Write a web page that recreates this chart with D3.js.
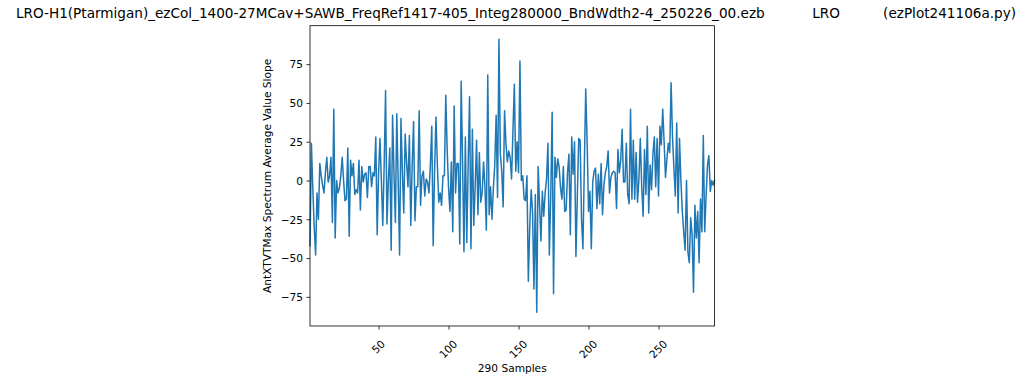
<!DOCTYPE html>
<html>
<head>
<meta charset="utf-8">
<script src="https://cdn.jsdelivr.net/npm/d3@7"></script>
<style>
  html, body { margin: 0; padding: 0; background: #fff; }
  svg { display: block; font-family: "DejaVu Sans", sans-serif; }
</style>
</head>
<body>
<svg id="chart" width="1024" height="382"></svg>
<script>
const titleText = "LRO-H1(Ptarmigan)_ezCol_1400-27MCav+SAWB_FreqRef1417-405_Integ280000_BndWdth2-4_250226_00.ezb           LRO          (ezPlot241106a.py)";
const xLabel = "290 Samples";
const yLabel = "AntXTVTMax Spectrum Average Value Slope";
const xTicks = [50, 100, 150, 200, 250];
const yTicks = [-75, -50, -25, 0, 25, 50, 75];
const slope = [
  -42, 24, -5, -30, -48, -8, -25, 11, 3, -3,
  -8, 5, 15, -1, 3, 15, -27, 46, -37, 0,
  -8, -5, 3, 15, 0, -13, -12, 21, -36, 13,
  3, 11, -9, -6, -8, 13, -19, 9, -1, 4,
  5, -11, 9, 9, -4, 5, 3, 28, -35, 5,
  27, 0, -29, 10, 58, -28, 0, 21, -45, 42,
  5, -27, 43, 0, -48, 40, 5, -21, 30, 12,
  -4, 29, -29, 10, 38, -26, -4, -4, 45, -16,
  3, 6, -10, 1, -1, -8, 10, 35, -42, 6,
  41, 10, -14, -8, -16, 3, 3, 55, 20, -5,
  -20, 12, -33, 48, -8, 11, 11, -41, 64, 12,
  -46, 28, -40, 10, 54, -44, 33, -29, -4, 26,
  -22, 18, -14, -8, 12, -4, -32, 68, -22, -4,
  -25, -5, 10, 42, -11, 91, 17, 6, -17, 45,
  24, 12, 19, 15, 1, 32, 62, 6, 25, 5,
  77, 0, 3, -12, -13, 3, -65, -30, -6, -20,
  -70, -9, -85, 9, -15, -39, -7, -23, -8, 1,
  24, -48, -10, 44, -73, 15, 2, 14, 9, -5,
  -12, 9, -20, -19, 5, 17, -35, 28, 4, 25,
  -49, -10, 27, 26, -25, -44, 10, 59, 25, -20,
  -7, -44, -1, 6, 8, -18, 4, -15, 11, -22,
  -3, 5, 9, 19, -8, 2, 5, 6, 5, -18,
  20, 5, 13, 33, -1, -1, 24, -9, -15, 46,
  -12, 26, -12, 18, -14, 1, 27, -4, -23, 20,
  -9, 35, -21, 10, -6, 17, 28, -4, 27, -10,
  35, 23, 46, 25, 2, 14, 24, 18, 63, 28,
  8, -10, 37, -21, 27, 0, -20, -33, -45, 0,
  -46, -53, -24, -35, -72, -16, -37, -20, -53, -12,
  -33, 29, -33, -10, 10, 16, -7, 0, -3, 0
];

const svg = d3.select("#chart");
const L = 310, R = 714.5, T = 25.7, B = 326;
const FS = 10.6;

const x = d3.scaleLinear().domain([1, slope.length]).range([L, R]);
const [mn, mx] = d3.extent(slope);
const pad = (mx - mn) * 0.05;
const y = d3.scaleLinear().domain([mn - pad, mx + pad]).range([B, T]);

const fmt = v => (v < 0 ? "\u2212" + Math.abs(v) : String(v));

// data line
svg.append("path")
  .datum(slope)
  .attr("fill", "none")
  .attr("stroke", "#1f77b4")
  .attr("stroke-width", 1.5)
  .attr("stroke-linejoin", "round")
  .attr("stroke-linecap", "square")
  .attr("d", d3.line().x((d, i) => x(i + 1)).y(d => y(d)));

// frame
svg.append("rect")
  .attr("x", L).attr("y", T).attr("width", R - L).attr("height", B - T)
  .attr("fill", "none").attr("stroke", "#000").attr("stroke-width", 0.8);

// y axis
const yAxis = d3.axisLeft(y).tickValues(yTicks).tickSize(3.5).tickPadding(3.5).tickFormat(fmt);
const gy = svg.append("g").attr("transform", `translate(${L},0)`).call(yAxis);
gy.select(".domain").remove();
gy.selectAll(".tick line").attr("stroke", "#000").attr("stroke-width", 0.8);
gy.selectAll(".tick text").attr("font-size", FS).attr("fill", "#000")
  .attr("font-family", "DejaVu Sans").attr("dy", "0.35em");

// x axis
const xAxis = d3.axisBottom(x).tickValues(xTicks).tickSize(3.5).tickFormat(d => String(d));
const gx = svg.append("g").attr("transform", `translate(0,${B})`).call(xAxis);
gx.select(".domain").remove();
gx.selectAll(".tick line").attr("stroke", "#000").attr("stroke-width", 0.8);
gx.selectAll(".tick text")
  .attr("font-size", FS).attr("fill", "#000").attr("font-family", "DejaVu Sans")
  .attr("text-anchor", "middle").attr("dominant-baseline", "central")
  .attr("y", null).attr("dy", null)
  .attr("transform", function(d) {
    const w = String(d).length * 0.636 * FS, h = 1.16 * FS;
    const c = 11.5 + (w + h) / (2 * Math.SQRT2);
    return `translate(-1,${c}) rotate(-45)`;
  });

// labels
svg.append("text")
  .attr("x", (L + R) / 2).attr("y", 372)
  .attr("text-anchor", "middle").attr("font-size", FS).attr("fill", "#000")
  .text(xLabel);

svg.append("text")
  .attr("transform", `translate(271,${(T + B) / 2}) rotate(-90)`)
  .attr("text-anchor", "middle").attr("font-size", FS).attr("fill", "#000")
  .text(yLabel);

svg.append("text")
  .attr("x", 516).attr("y", 18)
  .attr("text-anchor", "middle").attr("font-size", 13.6).attr("fill", "#000")
  .style("white-space", "pre")
  .text(titleText);
</script>
</body>
</html>
